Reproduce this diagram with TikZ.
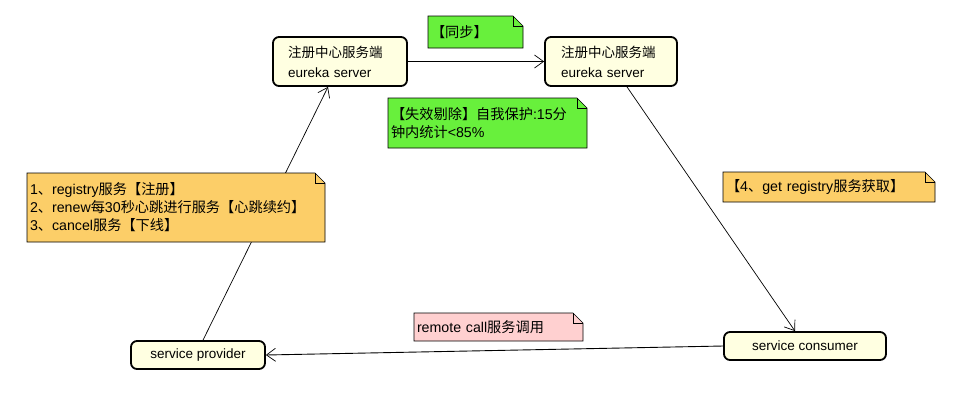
\documentclass[tikz,border=0pt]{standalone}
\usepackage{fontspec}
\setmainfont{Liberation Sans}
\newfontfamily\cjk{Noto Sans CJK SC}
\usetikzlibrary{arrows.meta,calc}
\definecolor{boxfill}{RGB}{255,255,225}
\definecolor{notegreen}{RGB}{104,240,60}
\definecolor{noteorange}{RGB}{252,206,104}
\definecolor{notepink}{RGB}{255,208,208}
\newcommand{\zh}[1]{{\cjk #1}}
\newcommand{\notebox}[7]{%
  \pgfmathsetmacro\nbw{#4-#2-6}%
  \filldraw[notefold, fill=#6] (#2,#3) -- (#4-10,#3) -- (#4,#3+10) -- (#4,#5) -- (#2,#5) -- cycle;
  \draw[notefold] (#4-10,#3) -- (#4-10,#3+10) -- (#4,#3+10);
  \node[notetext, text width=\nbw pt] (#1) at ({(#2+#4)/2},{(#3+#5)/2}) {#7};}
\begin{document}
\begin{tikzpicture}[x=1pt,y=-1pt,
  server/.style={draw=black, line width=1.8pt, rounded corners=6pt, fill=boxfill,
    inner ysep=0pt, font=\fontsize{13.5}{20}\selectfont},
  notefold/.style={draw=black, line width=0.6pt},
  notetext/.style={inner xsep=3pt, inner ysep=0pt, align=left,
    font=\fontsize{14.2}{18}\selectfont},
  link/.style={draw=black, line width=0.7pt},
  tip/.style={-{Straight Barb[length=9pt,width=13pt,line width=0.7pt]}}
]
\fill[white] (0,0) rectangle (973,400);
\useasboundingbox (0,0) rectangle (973,400);

% servers
\node[server, minimum width=134pt, minimum height=49pt, inner xsep=15pt,
      text width=104pt, align=left] (A) at (340,61.5)
  {\zh{注册中心服务端}\\eureka server};
\node[server, minimum width=132pt, minimum height=49pt, inner xsep=16pt,
      text width=100pt, align=left] (B) at (611,61.5)
  {\zh{注册中心服务端}\\eureka server};
\node[server, minimum width=134pt, minimum height=28pt, inner xsep=0pt] (prov) at (198,355)
  {service provider};
\node[server, minimum width=162pt, minimum height=28pt, inner xsep=0pt] (cons) at (805,346)
  {service consumer};

% connectors
\draw[link,tip] (A.east) -- (B.west);
\draw[link,tip] ($(prov.north)+(5,0)$) -- ($(A.south)+(-12,0)$);
\draw[link,tip] ($(B.south)+(16,0)$) -- ($(cons.north)+(-10,0)$);
\draw[link,tip,line width=0.9pt] (cons.west) -- (prov.east);

% notes
\notebox{sync}{428}{16}{523}{48}{notegreen}{\zh{【同步】}}
\notebox{evict}{388}{98}{587}{148}{notegreen}{\zh{【失效剔除】自我保护}:15\zh{分}\\\zh{钟内统计}<85\%}
\notebox{reg}{27}{173}{325}{242}{noteorange}{1\zh{、}registry\zh{服务【注册】}\\2\zh{、}renew\zh{每}30\zh{秒心跳进行服务【心跳续约】}\\3\zh{、}cancel\zh{服务【下线】}}
\notebox{get}{723}{172}{935}{202}{noteorange}{\zh{【}4\zh{、}get registry\zh{服务获取】}}
\notebox{call}{414}{313}{583}{341}{notepink}{remote call\zh{服务调用}}
\end{tikzpicture}
\end{document}
